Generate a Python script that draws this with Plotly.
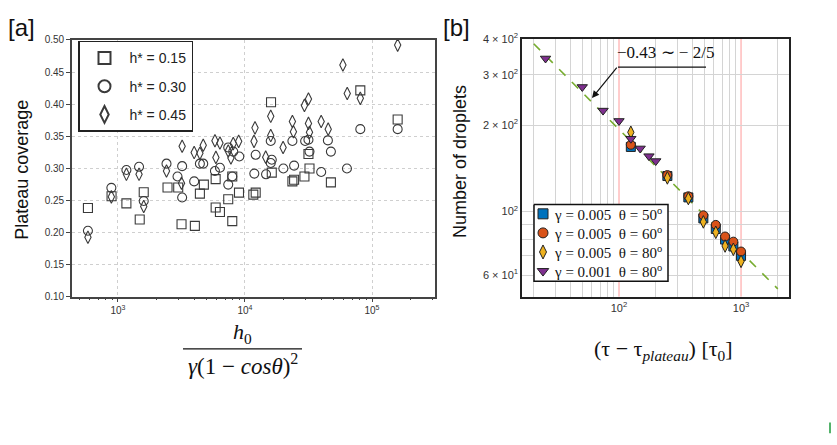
import math
import plotly.graph_objects as go

# ---------------- Panel [a] data ----------------
sq_x = [580, 890, 1165, 1483, 1595, 2455, 2980, 3165, 4030, 4415, 4745, 5875, 5875, 6350,
        7380, 7940, 7940, 8970, 11630, 12140, 16030, 16250, 23620, 24360, 29380, 31600,
        32200, 47470, 80900, 159200]
sq_y = [0.238, 0.2565, 0.2454, 0.2203, 0.2626, 0.2701, 0.270, 0.2128, 0.2102, 0.2605, 0.2746,
        0.2831, 0.2389, 0.2318, 0.2517, 0.2872, 0.2177, 0.262, 0.259, 0.262, 0.403, 0.2932,
        0.2796, 0.2822, 0.2872, 0.3223, 0.2997, 0.2781, 0.4215, 0.376]

ci_x = [580, 887, 1165, 1465, 1595, 2410, 2943, 3200, 3200, 3980, 4415, 4690, 5800, 6350,
        7380, 7380, 7940, 8085, 9020, 11840, 12140, 14650, 15950, 15950, 16250, 20050,
        23620, 24360, 29760, 31600, 32200, 39800, 44950, 47470, 63500, 80900, 159200]
ci_y = [0.2026, 0.2695, 0.2973, 0.3023, 0.249, 0.3072, 0.2872, 0.3033, 0.2544, 0.2796, 0.3072,
        0.3072, 0.2958, 0.3008, 0.3325, 0.2746, 0.2872, 0.326, 0.3184, 0.2917, 0.321, 0.2906,
        0.3426, 0.3083, 0.3133, 0.2997, 0.3426, 0.3042, 0.3426, 0.3445, 0.326, 0.2943, 0.3435,
        0.326, 0.2997, 0.361, 0.361]

di_x = [580, 887, 1165, 1465, 1595, 2410, 3165, 3200, 3980, 4415, 4690, 5800, 5900, 6350,
        7380, 7750, 8085, 8915, 11780, 11990, 14560, 15950, 15950, 19950, 23620, 24060,
        29380, 31600, 31600, 32200, 39800, 45200, 59000, 63830, 80900, 159200]
di_y = [0.1925, 0.2555, 0.2906, 0.2906, 0.2404, 0.2958, 0.2766, 0.3344, 0.3245, 0.3234, 0.336,
        0.343, 0.317, 0.3395, 0.327, 0.316, 0.3385, 0.342, 0.342, 0.363, 0.3174, 0.381, 0.351,
        0.3325, 0.373, 0.357, 0.398, 0.408, 0.370, 0.356, 0.373, 0.361, 0.461, 0.4165, 0.409,
        0.492]

a_labels = ["h* = 0.15", "h* = 0.30", "h* = 0.45"]
a_yticks = [0.10, 0.15, 0.20, 0.25, 0.30, 0.35, 0.40, 0.45, 0.50]
a_xticks = [1e3, 1e4, 1e5]
a_xticktext = ["10<sup>3</sup>", "10<sup>4</sup>", "10<sup>5</sup>"]

# ---------------- Panel [b] data ----------------
b_x = [125, 249, 370, 491, 621, 740, 865, 1000]
b_sq = [168, 133, 112, 94.6, 86.9, 79.8, 75.5, 70.0]   # gamma=0.005 theta=50
b_ci = [171, 134, 113, 97.0, 89.8, 81.8, 78.5, 72.5]   # gamma=0.005 theta=60
b_di = [189, 131, 111, 92.0, 84.6, 75.8, 73.8, 67.0]   # gamma=0.005 theta=80
tri_x = [25, 50, 74, 100, 125, 149, 176, 200]          # gamma=0.001 theta=80
tri_y = [342, 272, 225, 207, 179.5, 166, 156, 150]
fit_x = [20, 2000]
fit_y = [385, 53.7]
red_x = [100, 1000]
red_y = [100]

b_labels = ["γ = 0.005  θ = 50<sup>o</sup>", "γ = 0.005  θ = 60<sup>o</sup>",
            "γ = 0.005  θ = 80<sup>o</sup>", "γ = 0.001  θ = 80<sup>o</sup>"]
b_yticks = [60, 100, 200, 300, 400]
b_yticktext = ["6 × 10<sup>1</sup>", "10<sup>2</sup>", "2 × 10<sup>2</sup>",
               "3 × 10<sup>2</sup>", "4 × 10<sup>2</sup>"]
b_xticks = [100, 1000]
b_xticktext = ["10<sup>2</sup>", "10<sup>3</sup>"]

W, H = 837, 445
def px(x):
    return x / W
def py(y):
    return 1 - y / H

SANS = "Liberation Sans, Arial, sans-serif"
SERIF = "Liberation Serif, Times New Roman, serif"
EDGE = "#3a3a3a"

BX_RANGE = [1.205, 3.393]
BY_RANGE = [1.703, 2.602]

fig = go.Figure()

# Panel a traces
for xs, ys, sym, lab, sz in [(sq_x, sq_y, "square-open", a_labels[0], 9),
                             (ci_x, ci_y, "circle-open", a_labels[1], 9),
                             (di_x, di_y, "diamond-tall-open", a_labels[2], 9)]:
    fig.add_trace(go.Scatter(x=xs, y=ys, mode="markers", name=lab, legend="legend",
                             legendgroup=lab, xaxis="x", yaxis="y",
                             marker=dict(symbol=sym, size=sz, color=EDGE,
                                         line=dict(width=1.1, color=EDGE))))

# Panel b traces
fig.add_trace(go.Scatter(x=fit_x, y=fit_y, mode="lines", showlegend=False,
                         xaxis="x2", yaxis="y2",
                         line=dict(color="#77AC30", width=1.6, dash="dash")))
b_styles = [("square", "#0072BD"), ("circle", "#D95319"),
            ("diamond-tall", "#EDB120"), ("triangle-down", "#7E2F8E")]
for (xs, ys), (sym, col) in zip([(b_x, b_sq), (b_x, b_ci), (b_x, b_di), (tri_x, tri_y)],
                                b_styles):
    fig.add_trace(go.Scatter(x=xs, y=ys, mode="markers", showlegend=False,
                             xaxis="x2", yaxis="y2",
                             marker=dict(symbol=sym, size=9, color=col,
                                         line=dict(width=1, color="#222"))))

# Panel b legend: its own small frame (units = pixels inside the box)
LEG_L, LEG_T, LEG_W, LEG_H, ROW0, ROW_STEP = 534, 203, 134, 79, 9.5, 19.7
fig.add_trace(go.Scatter(x=[0, LEG_W, LEG_W, 0, 0], y=[0, 0, LEG_H, LEG_H, 0],
                         mode="lines", fill="toself", fillcolor="white",
                         line=dict(color="#111", width=1.5), showlegend=False,
                         hoverinfo="skip", xaxis="x3", yaxis="y3"))
for i, ((sym, col), lab) in enumerate(zip(b_styles, b_labels)):
    fig.add_trace(go.Scatter(x=[9], y=[ROW0 + ROW_STEP * i], mode="markers",
                             showlegend=False, xaxis="x3", yaxis="y3", hoverinfo="skip",
                             marker=dict(symbol=sym, size=10, color=col,
                                         line=dict(width=1, color="#222"))))
    fig.add_annotation(xref="x3", yref="y3", x=18, y=ROW0 + ROW_STEP * i, text=lab,
                       showarrow=False, xanchor="left", yanchor="middle",
                       font=dict(family=SERIF, size=15, color="#111"))

minor_a = [m * 10 ** e for e in (2, 3, 4, 5) for m in range(2, 10)]
minor_bx = [m * 10 ** e for e in (1, 2, 3) for m in range(2, 10)]
minor_by = [70, 80, 90]

fig.update_layout(
    width=W, height=H, margin=dict(l=0, r=0, t=0, b=0),
    paper_bgcolor="white", plot_bgcolor="rgba(0,0,0,0)",
    xaxis=dict(domain=[px(72), px(435)], type="log", range=[2.638, 5.496],
               tickvals=a_xticks, ticktext=a_xticktext,
               tickfont=dict(family=SANS, size=10, color="#333"),
               showline=True, linecolor="#444", linewidth=1.6, mirror=True,
               ticks="outside", ticklen=4, tickcolor="#444",
               showgrid=True, gridcolor="#cfcfcf", griddash="dot", gridwidth=1,
               minor=dict(tickvals=minor_a, ticks="outside", ticklen=2, tickcolor="#444",
                          showgrid=False),
               zeroline=False, anchor="y"),
    yaxis=dict(domain=[py(298), py(33)], range=[0.10, 0.50],
               tickvals=a_yticks, ticktext=["%.2f" % v for v in a_yticks],
               tickfont=dict(family=SANS, size=10, color="#333"),
               showline=True, linecolor="#444", linewidth=1.6, mirror=True,
               ticks="outside", ticklen=4, tickcolor="#444",
               showgrid=True, gridcolor="#cfcfcf", griddash="dot", gridwidth=1,
               zeroline=False, anchor="x"),
    xaxis2=dict(domain=[px(522), px(789)], type="log", range=BX_RANGE,
                tickvals=b_xticks, ticktext=b_xticktext,
                tickfont=dict(family=SANS, size=11, color="#333"),
                showline=True, linecolor="#222", linewidth=1.5, mirror=True, ticks="",
                showgrid=False,
                minor=dict(tickvals=minor_bx, showgrid=True, gridcolor="#d4d4d4",
                           gridwidth=1, ticks=""),
                zeroline=False, anchor="y2"),
    yaxis2=dict(domain=[py(298), py(32)], type="log", range=BY_RANGE,
                tickvals=b_yticks, ticktext=b_yticktext,
                tickfont=dict(family=SANS, size=11, color="#333"),
                showline=True, linecolor="#222", linewidth=1.5, mirror=True, ticks="",
                showgrid=True, gridcolor="#d4d4d4", gridwidth=1,
                minor=dict(tickvals=minor_by, showgrid=True, gridcolor="#d4d4d4",
                           gridwidth=1, ticks=""),
                zeroline=False, anchor="x2"),
    xaxis3=dict(domain=[px(LEG_L - 2), px(LEG_L + LEG_W + 2)], range=[-2, LEG_W + 2],
                visible=False, fixedrange=True, anchor="y3"),
    yaxis3=dict(domain=[py(LEG_T + LEG_H + 2), py(LEG_T - 2)], range=[LEG_H + 2, -2],
                visible=False, fixedrange=True, anchor="x3"),
    legend=dict(x=px(78), y=py(34), xanchor="left", yanchor="top",
                bgcolor="white", bordercolor="#222", borderwidth=1.5,
                font=dict(family=SANS, size=14, color="#222"),
                itemsizing="constant", tracegroupgap=7, itemwidth=40),
    showlegend=True,
)

# red reference lines in panel b (positions from the axis ranges)
for v in red_x:
    f = (math.log10(v) - BX_RANGE[0]) / (BX_RANGE[1] - BX_RANGE[0])
    fig.add_shape(type="line", xref="x2 domain", x0=f, x1=f, yref="y2 domain", y0=0, y1=1,
                  line=dict(color="#ff9a9a", width=1), layer="below")
for v in red_y:
    f = (math.log10(v) - BY_RANGE[0]) / (BY_RANGE[1] - BY_RANGE[0])
    fig.add_shape(type="line", xref="x2 domain", x0=0, x1=1, yref="y2 domain", y0=f, y1=f,
                  line=dict(color="#ff9a9a", width=1), layer="below")

anns = [
    dict(text="[a]", x=px(6), y=py(20), xanchor="left", yanchor="middle",
         font=dict(family=SANS, size=24, color="#111")),
    dict(text="[b]", x=px(441), y=py(20), xanchor="left", yanchor="middle",
         font=dict(family=SANS, size=24, color="#111")),
    dict(text="Plateau coverage", x=px(22), y=py(167), textangle=-90,
         xanchor="center", yanchor="middle", font=dict(family=SANS, size=18, color="#111")),
    dict(text="Number of droplets", x=px(460), y=py(159), textangle=-90,
         xanchor="center", yanchor="middle", font=dict(family=SANS, size=18, color="#111")),
    dict(text="<i>h</i><sub>0</sub>", x=px(242), y=py(336), xanchor="center", yanchor="middle",
         font=dict(family=SERIF, size=22, color="#111")),
    dict(text="<i>γ</i>(1 − <i>cosθ</i>)<sup>2</sup>", x=px(242.5), y=py(368),
         xanchor="center", yanchor="middle", font=dict(family=SERIF, size=23, color="#111")),
    dict(text="(τ − τ<sub><i>plateau</i></sub>) [τ<sub>0</sub>]", x=px(663), y=py(353),
         xanchor="center", yanchor="middle", font=dict(family=SERIF, size=22, color="#111")),
    dict(text="−0.43 ∼ − 2/5", x=px(665), y=py(46), xanchor="center", yanchor="middle",
         font=dict(family=SERIF, size=17, color="#111")),
]
for a in anns:
    fig.add_annotation(xref="paper", yref="paper", showarrow=False, **a)

# arrow pointing at the fit line
fig.add_annotation(xref="paper", yref="paper", x=px(592), y=py(93), ax=26, ay=-32,
                   text="", showarrow=True, arrowhead=2, arrowsize=1.2, arrowwidth=1.2,
                   arrowcolor="#111")
# leader line and fraction bar
fig.add_shape(type="line", xref="paper", yref="paper", x0=px(618), x1=px(706),
              y0=py(61), y1=py(61), line=dict(color="#111", width=1.2))
fig.add_shape(type="line", xref="paper", yref="paper", x0=px(183), x1=px(302),
              y0=py(352), y1=py(352), line=dict(color="#111", width=1.2))
# small green mark at bottom-right
fig.add_shape(type="line", xref="paper", yref="paper", x0=px(830), x1=px(830),
              y0=py(428), y1=py(439), line=dict(color="#1a9a3a", width=1.5))

fig.write_html("out.html")
